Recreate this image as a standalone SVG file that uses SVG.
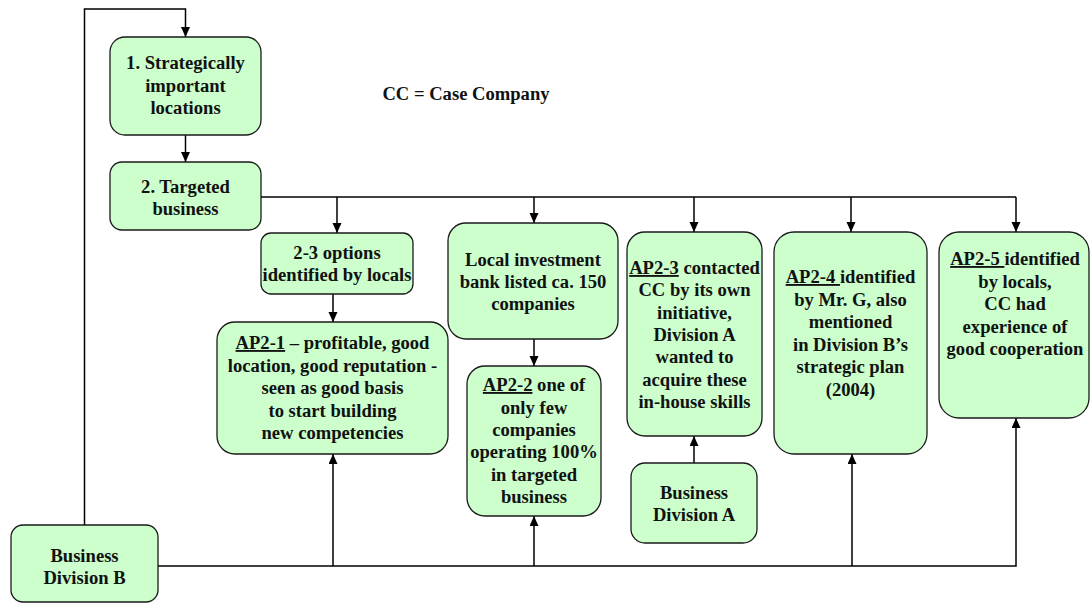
<svg xmlns="http://www.w3.org/2000/svg" width="1090" height="603" viewBox="0 0 1090 603">
  <style>
    .box { fill: #ccffcc; stroke: #1a1a1a; stroke-width: 1.3; }
    .lbl { font-family: "Liberation Serif", "Times New Roman", serif; font-weight: bold; font-size: 18.6px; fill: #111; text-anchor: middle; }
    .u { text-decoration: underline; }
    .wire { fill: none; stroke: #000; stroke-width: 1.5; }
    .arr { fill: none; stroke: #000; stroke-width: 1.5; marker-end: url(#head); }
  </style>
  <defs>
    <marker id="head" markerUnits="userSpaceOnUse" markerWidth="10" markerHeight="10" refX="10" refY="4.5" orient="auto">
      <path d="M0,0 L10,4.5 L0,9 z" fill="#000"/>
    </marker>
  </defs>
  <rect width="1090" height="603" fill="#fff"/>

  <!-- connectors -->
  <g id="connectors">
    <!-- loop from Division B back to step 1 -->
    <path class="arr" d="M84.5,525 V9 H185.5 V37"/>
    <path class="arr" d="M185.5,135 V162"/>
    <!-- distribution from targeted business -->
    <path class="wire" d="M261,197 H1016"/>
    <path class="arr" d="M337,197 V233"/>
    <path class="arr" d="M534,197 V223"/>
    <path class="arr" d="M694,197 V232"/>
    <path class="arr" d="M851,197 V232"/>
    <path class="arr" d="M1016,197 V232"/>
    <path class="arr" d="M333,294 V322"/>
    <path class="arr" d="M534,339 V366"/>
    <path class="arr" d="M694,463 V436"/>
    <!-- Division B bus -->
    <path class="arr" d="M158,566 H1016 V418"/>
    <path class="arr" d="M333,566 V454"/>
    <path class="arr" d="M534,566 V516"/>
    <path class="arr" d="M852,566 V454"/>
  </g>

  <text class="lbl" x="466" y="100">CC = Case Company</text>

  <g id="step1">
    <rect class="box" x="110" y="37" width="151" height="98" rx="15"/>
    <text class="lbl" x="185.5" y="69">1. Strategically</text>
    <text class="lbl" x="185.5" y="91.5">important</text>
    <text class="lbl" x="185.5" y="114">locations</text>
  </g>

  <g id="step2">
    <rect class="box" x="110" y="162" width="151" height="68" rx="12"/>
    <text class="lbl" x="185.5" y="193">2. Targeted</text>
    <text class="lbl" x="185.5" y="215">business</text>
  </g>

  <g id="options">
    <rect class="box" x="261" y="233" width="152" height="61" rx="10"/>
    <text class="lbl" x="337" y="259">2-3 options</text>
    <text class="lbl" x="337" y="281">identified by locals</text>
  </g>

  <g id="ap2-1">
    <rect class="box" x="217" y="322" width="231" height="132" rx="18"/>
    <text class="lbl" x="332.5" y="349"><tspan class="u">AP2-1</tspan> – profitable, good</text>
    <text class="lbl" x="332.5" y="371.5">location, good reputation -</text>
    <text class="lbl" x="332.5" y="394">seen as good basis</text>
    <text class="lbl" x="332.5" y="416.5">to start building</text>
    <text class="lbl" x="332.5" y="439">new competencies</text>
  </g>

  <g id="bank">
    <rect class="box" x="448" y="223" width="170" height="116" rx="18"/>
    <text class="lbl" x="533" y="266">Local investment</text>
    <text class="lbl" x="533" y="288">bank listed ca. 150</text>
    <text class="lbl" x="533" y="310">companies</text>
  </g>

  <g id="ap2-2">
    <rect class="box" x="467" y="366" width="134" height="150" rx="18"/>
    <text class="lbl" x="534" y="391"><tspan class="u">AP2-2</tspan> one of</text>
    <text class="lbl" x="534" y="413.5">only few</text>
    <text class="lbl" x="534" y="436">companies</text>
    <text class="lbl" x="534" y="458">operating 100%</text>
    <text class="lbl" x="534" y="480.5">in targeted</text>
    <text class="lbl" x="534" y="502.5">business</text>
  </g>

  <g id="ap2-3">
    <rect class="box" x="627" y="232" width="135" height="204" rx="18"/>
    <text class="lbl" x="694.5" y="274"><tspan class="u">AP2-3</tspan> contacted</text>
    <text class="lbl" x="694.5" y="296">CC by its own</text>
    <text class="lbl" x="694.5" y="318.5">initiative,</text>
    <text class="lbl" x="694.5" y="341">Division A</text>
    <text class="lbl" x="694.5" y="363">wanted to</text>
    <text class="lbl" x="694.5" y="385.5">acquire these</text>
    <text class="lbl" x="694.5" y="408">in-house skills</text>
  </g>

  <g id="division-a">
    <rect class="box" x="631" y="463" width="126" height="80" rx="14"/>
    <text class="lbl" x="694" y="499">Business</text>
    <text class="lbl" x="694" y="521">Division A</text>
  </g>

  <g id="ap2-4">
    <rect class="box" x="774" y="232" width="153" height="222" rx="20"/>
    <text class="lbl" x="850.5" y="283" xml:space="preserve"><tspan class="u">AP2-4 </tspan>identified</text>
    <text class="lbl" x="850.5" y="305.5">by Mr. G, also</text>
    <text class="lbl" x="850.5" y="328">mentioned</text>
    <text class="lbl" x="850.5" y="350.5">in Division B’s</text>
    <text class="lbl" x="850.5" y="373">strategic plan</text>
    <text class="lbl" x="850.5" y="395.5">(2004)</text>
  </g>

  <g id="ap2-5">
    <rect class="box" x="939" y="232" width="150" height="186" rx="20"/>
    <text class="lbl" x="1015" y="265" xml:space="preserve"><tspan class="u">AP2-5 </tspan>identified</text>
    <text class="lbl" x="1015" y="287.5">by locals,</text>
    <text class="lbl" x="1015" y="310">CC had</text>
    <text class="lbl" x="1015" y="332.5">experience of</text>
    <text class="lbl" x="1015" y="355">good cooperation</text>
  </g>

  <g id="division-b">
    <rect class="box" x="11" y="525" width="147" height="77" rx="12"/>
    <text class="lbl" x="84.5" y="562">Business</text>
    <text class="lbl" x="84.5" y="584">Division B</text>
  </g>
</svg>
